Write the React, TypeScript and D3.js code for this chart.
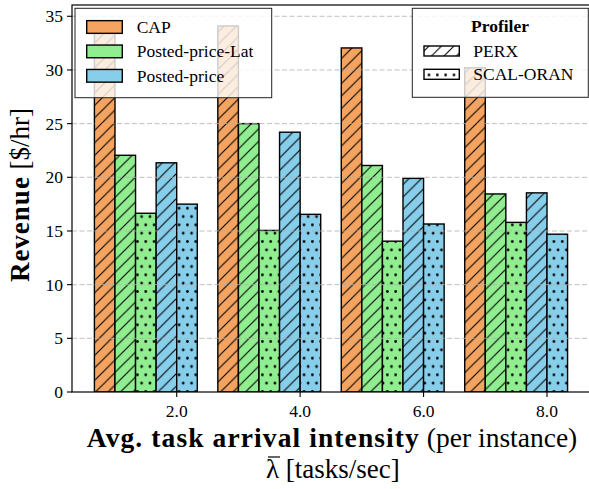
import React from 'react';
import * as d3 from 'd3';

const groups = [2.0, 4.0, 6.0, 8.0];
const tickLabels = ['2.0', '4.0', '6.0', '8.0'];
const capPerx = [33.9, 34.1, 32.05, 30.2];
const latPerx = [22.05, 25.0, 21.1, 18.45];
const latScal = [16.65, 15.05, 14.05, 15.8];
const ppPerx = [21.35, 24.2, 19.9, 18.55];
const ppScal = [17.5, 16.55, 15.65, 14.7];
const yTicks = [0, 5, 10, 15, 20, 25, 30, 35];
const methods = ['CAP', 'Posted-price-Lat', 'Posted-price'];
const profilers = ['PERX', 'SCAL-ORAN'];
const colors = ['#F4A460', '#90EE90', '#87CEEB'];

const series = [
  { values: capPerx, method: 0, prof: 0 },
  { values: latPerx, method: 1, prof: 0 },
  { values: latScal, method: 1, prof: 1 },
  { values: ppPerx, method: 2, prof: 0 },
  { values: ppScal, method: 2, prof: 1 },
];

const W = 589, H = 489;
const FONT = '"Liberation Serif", "Times New Roman", serif';
const BW = 1 / 3;

export default function App() {
  const plotL = 72, plotR = 596, plotT = 5, plotB = 392;
  const x = d3.scaleLinear().domain([2, 8]).range([176.7, 547]);
  const y = d3.scaleLinear().domain([0, 36.05]).range([plotB, plotT]);
  const bwPx = x(BW) - x(0);
  const hatchD = 12.5;
  const dotD = 8.33;
  const patId = (prof: number) => (prof === 0 ? 'url(#hatchSlash)' : 'url(#hatchDots)');

  return (
    <svg width={W} height={H} style={{ position: 'absolute', left: 0, top: 0, background: '#fff' }} fontFamily={FONT}>
      <defs>
        <pattern id="hatchSlash" patternUnits="userSpaceOnUse" width={hatchD} height={hatchD}>
          <path d={`M0,${hatchD} L${hatchD},0 M${-hatchD / 2},${hatchD / 2} L${hatchD / 2},${-hatchD / 2} M${hatchD / 2},${hatchD * 1.5} L${hatchD * 1.5},${hatchD / 2}`} stroke="#000" strokeWidth={1.1} fill="none" />
        </pattern>
        <pattern id="hatchDots" patternUnits="userSpaceOnUse" width={dotD} height={dotD * 2}>
          <circle cx={0} cy={0} r={1.35} fill="#000" />
          <circle cx={dotD} cy={0} r={1.35} fill="#000" />
          <circle cx={dotD / 2} cy={dotD} r={1.35} fill="#000" />
          <circle cx={0} cy={dotD * 2} r={1.35} fill="#000" />
          <circle cx={dotD} cy={dotD * 2} r={1.35} fill="#000" />
        </pattern>
        <clipPath id="plotClip">
          <rect x={plotL} y={plotT} width={plotR - plotL} height={plotB - plotT} />
        </clipPath>
      </defs>

      {/* bars */}
      <g clipPath="url(#plotClip)">
        {series.map((s, k) =>
          groups.map((g, i) => {
            const left = x(g - (4 - k) * BW);
            const top = y(s.values[i]);
            const h = y(0) - top;
            return (
              <g key={`${k}-${i}`}>
                <rect x={left} y={top} width={bwPx} height={h} fill={colors[s.method]} />
                <rect x={left} y={top} width={bwPx} height={h} fill={patId(s.prof)} />
                <rect x={left} y={top} width={bwPx} height={h} fill="none" stroke="#000" strokeWidth={1.4} />
              </g>
            );
          })
        )}
      </g>

      {/* grid */}
      {yTicks.filter((t) => t > 0).map((t) => (
        <line key={t} x1={plotL} x2={plotR} y1={y(t)} y2={y(t)} stroke="#b0b0b0" strokeOpacity={0.8} strokeWidth={1} strokeDasharray="5,2.5" />
      ))}

      {/* spines */}
      <rect x={plotL} y={plotT} width={plotR - plotL} height={plotB - plotT} fill="none" stroke="#000" strokeWidth={1.2} />

      {/* y ticks */}
      {yTicks.map((t) => (
        <g key={t}>
          <line x1={plotL - 5} x2={plotL} y1={y(t)} y2={y(t)} stroke="#000" strokeWidth={1.1} />
          <text x={plotL - 9} y={y(t)} dy="0.35em" textAnchor="end" fontSize={17.5}>{t}</text>
        </g>
      ))}

      {/* x ticks */}
      {groups.map((g, i) => (
        <g key={g}>
          <line x1={x(g)} x2={x(g)} y1={plotB} y2={plotB + 5} stroke="#000" strokeWidth={1.1} />
          <text x={x(g)} y={plotB + 25} textAnchor="middle" fontSize={17.5}>{tickLabels[i]}</text>
        </g>
      ))}

      {/* y label */}
      <text transform={`translate(29, 195) rotate(-90)`} textAnchor="middle" fontSize={27}>
        <tspan fontWeight="bold" letterSpacing={1}>Revenue</tspan>
        <tspan> [$/hr]</tspan>
      </text>

      {/* x label */}
      <text x={332} y={447} textAnchor="middle" fontSize={27.5}>
        <tspan fontWeight="bold" letterSpacing={1.1}>Avg. task arrival intensity</tspan>
        <tspan> (per instance)</tspan>
      </text>
      <text x={266} y={478} textAnchor="start" fontSize={27}>
        <tspan>λ</tspan>
        <tspan> [tasks/sec]</tspan>
      </text>
      <line x1={268} x2={280} y1={457} y2={457} stroke="#000" strokeWidth={1.2} />

      {/* legend 1 */}
      <g>
        <rect x={75} y={8.3} width={196.7} height={89.4} fill="#fff" fillOpacity={0.8} stroke="#222" strokeWidth={1} />
        {methods.map((m, i) => {
          const cy = 27 + i * 24.4;
          return (
            <g key={m}>
              <rect x={86.7} y={cy - 6.35} width={35.6} height={12.7} fill={colors[i]} stroke="#000" strokeWidth={1.4} />
              <text x={136.7} y={cy + 6} fontSize={17.5}>{m}</text>
            </g>
          );
        })}
      </g>

      {/* legend 2 */}
      <g>
        <rect x={412.3} y={8.3} width={176} height={89} fill="#fff" fillOpacity={0.8} stroke="#222" strokeWidth={1} />
        <text x={500} y={32} textAnchor="middle" fontSize={17.5} fontWeight="bold">Profiler</text>
        {profilers.map((p, i) => {
          const cy = 51 + i * 23.3;
          return (
            <g key={p}>
              <rect x={424} y={cy - 5} width={35.3} height={10} fill="#fff" />
              <rect x={424} y={cy - 5} width={35.3} height={10} fill={patId(i)} stroke="#000" strokeWidth={1.4} />
              <text x={473.3} y={cy + 6} fontSize={17.5}>{p}</text>
            </g>
          );
        })}
      </g>
    </svg>
  );
}
